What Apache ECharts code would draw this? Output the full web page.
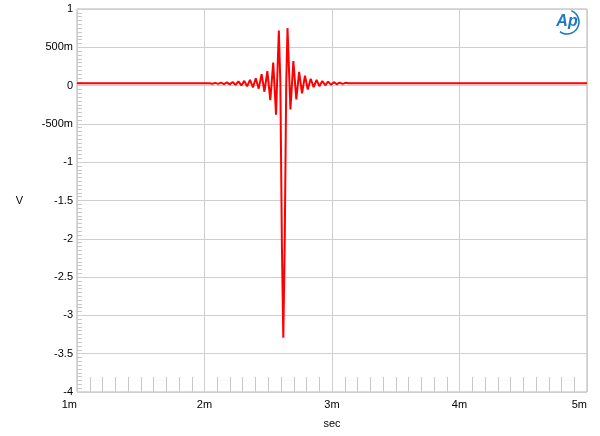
<!DOCTYPE html>
<html>
<head>
<meta charset="utf-8">
<script src="https://cdn.jsdelivr.net/npm/echarts@6/dist/echarts.min.js"></script>
<style>html,body{margin:0;padding:0;background:#fff;}#c{width:600px;height:436px;}</style>
</head>
<body>
<div id="c"></div>
<script>
// time in milliseconds (axis labelled with "m" suffix, unit sec)
var timeMs = [
  1.000, 2.040, 2.062, 2.085, 2.107, 2.130, 2.153, 2.175, 2.198, 2.221, 2.243,
  2.266, 2.289, 2.312, 2.334, 2.357, 2.380, 2.402, 2.425, 2.448, 2.470,
  2.493, 2.516, 2.539, 2.561, 2.583, 2.595, 2.607, 2.618, 2.629, 2.641,
  2.651, 2.674, 2.697, 2.720, 2.742, 2.765, 2.788, 2.810, 2.833, 2.856,
  2.879, 2.901, 2.924, 2.947, 2.969, 2.992, 3.015, 3.038, 3.060, 3.083,
  3.106, 3.130, 5.000
];
var volts = [
  0.030, 0.030, 0.025, 0.036, 0.023, 0.038, 0.020, 0.042, 0.016, 0.047, 0.010,
  0.054, 0.002, 0.062, -0.010, 0.075, -0.025, 0.095, -0.040, 0.150, -0.080,
  0.190, -0.190, 0.300, -0.380, 0.720, 0.030, -2.080, -3.290, -2.080, 0.030,
  0.750, -0.310, 0.320, -0.180, 0.180, -0.100, 0.130, -0.050, 0.090, -0.020,
  0.075, -0.008, 0.060, 0.004, 0.052, 0.012, 0.045, 0.018, 0.040, 0.022,
  0.036, 0.030, 0.030
];
var xTicks = ['1m', '2m', '3m', '4m', '5m'];
var yTickMap = {'1': '1', '0.5': '500m', '0': '0', '-0.5': '-500m'};

var data = timeMs.map(function (t, i) { return [t, volts[i]]; });

var chart = echarts.init(document.getElementById('c'), null, {renderer: 'canvas'});
var labelFont = {fontFamily: 'Liberation Sans, Arial, sans-serif', fontSize: 11, color: '#000'};
chart.setOption({
  animation: false,
  backgroundColor: '#fff',
  grid: {left: 77, right: 13, top: 9, bottom: 44, show: true, borderColor: '#b4b4b4', borderWidth: 1},
  xAxis: {
    type: 'value', min: 1, max: 5, interval: 1,
    name: 'sec', nameLocation: 'middle', nameGap: 26,
    nameTextStyle: labelFont,
    axisLine: {show: false, onZero: false},
    axisTick: {show: false, inside: true},
    minorTick: {show: true, splitNumber: 10, length: 15, lineStyle: {color: '#c8c8c8', width: 1}},
    splitLine: {show: true, lineStyle: {color: '#cfcfcf', width: 1}},
    axisLabel: Object.assign({
      margin: 7, alignMinLabel: 'right', alignMaxLabel: 'right',
      formatter: function (v) { return xTicks[Math.round(v - 1)]; }
    }, labelFont)
  },
  yAxis: {
    type: 'value', min: -4, max: 1, interval: 0.5,
    name: 'V', nameLocation: 'middle', nameGap: 54, nameRotate: 0,
    nameTextStyle: labelFont,
    axisLine: {show: false, onZero: false},
    axisTick: {show: false, inside: true},
    minorTick: {show: true, splitNumber: 10, length: 5, lineStyle: {color: '#c8c8c8', width: 1}},
    splitLine: {show: true, lineStyle: {color: '#cfcfcf', width: 1}},
    axisLabel: Object.assign({
      margin: 4,
      formatter: function (v) {
        var k = String(Math.round(v * 10) / 10);
        return yTickMap[k] !== undefined ? yTickMap[k] : k;
      }
    }, labelFont)
  },
  series: [{
    type: 'line', data: data, showSymbol: false, smooth: false,
    lineStyle: {color: '#ff0000', width: 2}, z: 5
  }],
  graphic: [
    {type: 'arc', shape: {cx: 567, cy: 22, r: 12, startAngle: -1.2, endAngle: 2.2},
     style: {stroke: '#1f78c1', lineWidth: 1.5, fill: null}},
    {type: 'text', x: 567, y: 22,
     style: {text: 'Ap', font: 'italic bold 16px Liberation Sans, Arial, sans-serif', fill: '#1f78c1', align: 'center', verticalAlign: 'middle'}}
  ]
});
</script>
</body>
</html>
